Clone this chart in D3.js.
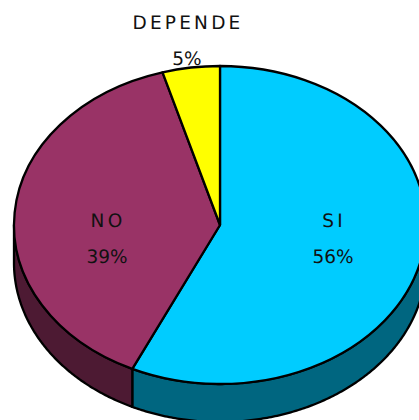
<!DOCTYPE html>
<html>
<head>
<meta charset="utf-8">
<script src="https://cdn.jsdelivr.net/npm/d3@7"></script>
<style>
  html, body { margin: 0; padding: 0; background: #fff; overflow: hidden; }
  svg { display: block; }
  text { font-family: "DejaVu Sans", sans-serif; font-size: 18.5px; fill: #111; text-anchor: middle; text-rendering: geometricPrecision; }
  .slice, .wall { stroke: #000; stroke-width: 2.3px; stroke-linejoin: round; vector-effect: non-scaling-stroke; }
</style>
</head>
<body>
<svg width="419" height="420"></svg>
<script>
// chart data
const categories = ['SI', 'NO', 'DEPENDE'];
const shares = [57.0, 38.5, 4.5];          // slice sizes as drawn
const percentLabels = ['56%', '39%', '5%']; // labels as printed
const topColors = ['#00CCFF', '#993366', '#FFFF00'];
const sideColors = ['#006680', '#4D1A33', '#808000'];

const width = 419, height = 420;
const cx = 220, cy = 225;
const rx = 206, ry = 159, depth = 38;

const svg = d3.select('svg');

const pie = d3.pie().sort(null).value(d => d);
const slices = pie(shares);

// point on the tilted rim, angle clockwise from 12 o'clock
const rimX = a => cx + rx * Math.sin(a);
const rimY = a => cy - ry * Math.cos(a);

// the side wall, only the front half of the rim shows
const rim = d3.area()
  .x(a => rimX(a))
  .y0(a => rimY(a))
  .y1(a => rimY(a) + depth);

const walls = svg.append('g');
slices.forEach((s, i) => {
  const from = Math.max(s.startAngle, Math.PI / 2);
  const to = Math.min(s.endAngle, Math.PI * 1.5);
  if (from >= to) return;
  const steps = d3.range(from, to, 0.01).concat([to]);
  walls.append('path')
    .attr('class', 'wall')
    .attr('d', rim(steps))
    .attr('fill', sideColors[i]);
});

// top face, a circle squashed into the ellipse
const arc = d3.arc().innerRadius(0).outerRadius(rx);
svg.append('g')
  .attr('transform', `translate(${cx},${cy}) scale(1,${ry / rx})`)
  .selectAll('path')
  .data(slices)
  .enter().append('path')
  .attr('class', 'slice')
  .attr('d', arc)
  .attr('fill', (d, i) => topColors[i]);

// labels
const labelX = [334, 108, 188];
const nameY = [227, 227, 29];
const pctY = [263, 263, 65];

svg.selectAll('text.name')
  .data(categories)
  .enter().append('text')
  .attr('class', 'name')
  .attr('x', (d, i) => labelX[i])
  .attr('y', (d, i) => nameY[i])
  .attr('letter-spacing', '3.2px')
  .text(d => d);

const pctX = [333, 107, 187];
svg.selectAll('text.pct')
  .data(percentLabels)
  .enter().append('text')
  .attr('class', 'pct')
  .attr('x', (d, i) => pctX[i])
  .attr('y', (d, i) => pctY[i])
  .text(d => d);
</script>
</body>
</html>
